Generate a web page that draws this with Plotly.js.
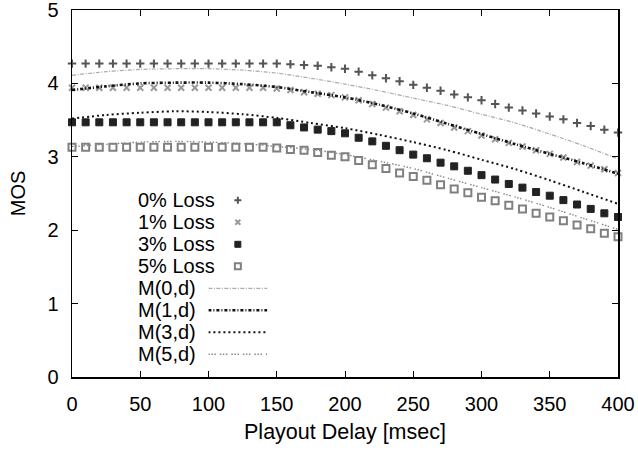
<!DOCTYPE html>
<html>
<head>
<meta charset="utf-8">
<script src="https://cdn.plot.ly/plotly-3.0.1.min.js"></script>
<style>html,body{margin:0;padding:0;background:#fff;}#chart{width:638px;height:451px;}</style>
</head>
<body>
<div id="chart"></div>
<script>
// Measured points (playout delay in msec)
const delay = [0,10,20,30,40,50,60,70,80,90,100,110,120,130,140,150,160,170,180,190,200,
  210,220,230,240,250,260,270,280,290,300,310,320,330,340,350,360,370,380,390,400];
const loss0 = [4.27,4.27,4.27,4.27,4.27,4.27,4.27,4.27,4.27,4.27,4.27,4.27,4.27,4.27,4.27,4.27,
  4.26,4.25,4.24,4.22,4.20,4.16,4.11,4.07,4.03,3.98,3.94,3.90,3.85,3.81,3.77,3.72,3.67,3.63,3.59,3.55,3.51,3.46,3.42,3.37,3.33];
const loss1 = [3.94,3.94,3.94,3.94,3.94,3.94,3.94,3.94,3.94,3.94,3.94,3.94,3.94,3.94,3.94,
  3.93,3.91,3.88,3.86,3.84,3.81,3.77,3.72,3.67,3.62,3.57,3.51,3.46,3.40,3.35,3.29,3.24,3.19,3.14,3.09,3.04,2.99,2.93,2.88,2.83,2.78];
const loss3 = [3.47,3.47,3.47,3.47,3.47,3.47,3.47,3.47,3.47,3.47,3.47,3.47,3.47,3.47,3.47,3.47,
  3.43,3.40,3.37,3.35,3.32,3.26,3.21,3.15,3.09,3.03,2.98,2.92,2.87,2.81,2.75,2.69,2.63,2.58,2.52,2.47,2.41,2.35,2.29,2.23,2.18];
const loss5 = [3.13,3.13,3.13,3.13,3.13,3.13,3.13,3.13,3.13,3.13,3.13,3.13,3.13,3.13,3.13,
  3.12,3.10,3.09,3.06,3.02,3.00,2.95,2.89,2.84,2.78,2.73,2.68,2.62,2.56,2.51,2.45,2.40,2.34,2.29,2.23,2.18,2.13,2.07,2.02,1.96,1.91];

// Model curves M(p,d)
const delayModel = [0,25,50,75,100,125,150,175,200,225,250,275,300,325,350,375,400];
const model0 = [4.11,4.16,4.19,4.20,4.20,4.18,4.14,4.07,3.99,3.90,3.80,3.70,3.58,3.46,3.31,3.15,2.97];
const model1 = [3.91,3.96,4.00,4.01,4.01,3.99,3.95,3.88,3.81,3.71,3.59,3.45,3.31,3.17,3.04,2.91,2.77];
const model3 = [3.52,3.57,3.60,3.62,3.61,3.58,3.53,3.46,3.39,3.30,3.20,3.09,2.96,2.83,2.68,2.52,2.36];
const model5 = [3.14,3.17,3.20,3.21,3.20,3.18,3.14,3.10,3.03,2.94,2.84,2.71,2.58,2.45,2.31,2.16,2.01];

const legendLabels = ['0% Loss','1% Loss','3% Loss','5% Loss','M(0,d)','M(1,d)','M(3,d)','M(5,d)'];
const xTickVals = [0,50,100,150,200,250,300,350,400];
const yTickVals = [0,1,2,3,4,5];

const markerStyles = [
  {symbol:'cross-thin-open', size:6, color:'#555', line:{color:'#555', width:2}},
  {symbol:'x-thin-open', size:6, color:'#999', line:{color:'#999', width:2}},
  {symbol:'square', size:7, color:'#222', line:{color:'#222', width:1}},
  {symbol:'square-open', size:7, color:'#808080', line:{color:'#808080', width:2}}
];
const lineStyles = [
  {color:'#aaaaaa', width:1.2, dash:'4px,1.5px,1px,1.5px'},
  {color:'#111111', width:2.6, dash:'3px,2px,1px,2px'},
  {color:'#111111', width:2.0, dash:'2px,3px'},
  {color:'#888888', width:1.4, dash:'1.5px,1.5px,1.5px,1.5px,1.5px,4px'}
];

const lossSeries = [loss0, loss1, loss3, loss5];
const modelSeries = [model0, model1, model3, model5];
const traces = [];
lossSeries.forEach((ys, i) => {
  traces.push({x: delay, y: ys, type:'scatter', mode:'markers', name: legendLabels[i],
    marker: markerStyles[i], cliponaxis:false, showlegend:false, hoverinfo:'x+y'});
});
modelSeries.forEach((ys, i) => {
  traces.push({x: delayModel, y: ys, type:'scatter', mode:'lines', name: legendLabels[4+i],
    line: Object.assign({shape:'spline', smoothing:0.8}, lineStyles[i]), showlegend:false});
});

// Gnuplot-style key: text left, sample right, drawn on a helper axis pair
const keyRows = [0,1,2,3,4,5,6,7];
lossSeries.forEach((ys, i) => {
  traces.push({x:[0.5], y:[keyRows[i]], xaxis:'x2', yaxis:'y2', type:'scatter', mode:'markers',
    marker: Object.assign({}, markerStyles[i], {size: markerStyles[i].size - 1}), showlegend:false, hoverinfo:'skip'});
});
modelSeries.forEach((ys, i) => {
  traces.push({x:[0,1], y:[keyRows[4+i], keyRows[4+i]], xaxis:'x2', yaxis:'y2', type:'scatter', mode:'lines',
    line: lineStyles[i], showlegend:false, hoverinfo:'skip'});
});

const font = {family:'"Liberation Sans", Arial, sans-serif', size:20, color:'#000'};
const titleFont = {family:'"Liberation Sans", Arial, sans-serif', size:21.5, color:'#000'};
const annotations = legendLabels.map((t, i) => ({
  text: t, xref:'paper', yref:'y2', x: 0.117, y: keyRows[i], xanchor:'left', yanchor:'middle',
  showarrow:false, font: font
}));

const layout = {
  width:638, height:451,
  margin:{l:72, r:20, t:10, b:74},
  paper_bgcolor:'#fff', plot_bgcolor:'#fff',
  font: font,
  showlegend:false,
  xaxis:{range:[0,400], tickvals:xTickVals, ticks:'inside', ticklen:6, tickwidth:1, tickcolor:'#000',
    showline:true, linecolor:'#000', linewidth:1.5, mirror:'ticks', showgrid:false, zeroline:false,
    ticklabelstandoff:8, ticklabeloverflow:'allow', tickfont:font,
    title:{text:'Playout Delay [msec]', font:titleFont, standoff:10}},
  yaxis:{range:[0,5], tickvals:yTickVals, ticks:'inside', ticklen:6, tickwidth:1, tickcolor:'#000',
    showline:true, linecolor:'#000', linewidth:1.5, mirror:'ticks', showgrid:false, zeroline:false,
    ticklabelstandoff:8, ticklabeloverflow:'allow', tickfont:font,
    title:{text:'MOS', font:font, standoff:16}},
  xaxis2:{domain:[0.2498,0.3577], range:[0,1], anchor:'y2', visible:false, fixedrange:true},
  yaxis2:{domain:[0.0319,0.5114], range:[7.5,-0.5], anchor:'x2', visible:false, fixedrange:true},
  annotations: annotations
};

Plotly.newPlot('chart', traces, layout, {staticPlot:true});
</script>
</body>
</html>
